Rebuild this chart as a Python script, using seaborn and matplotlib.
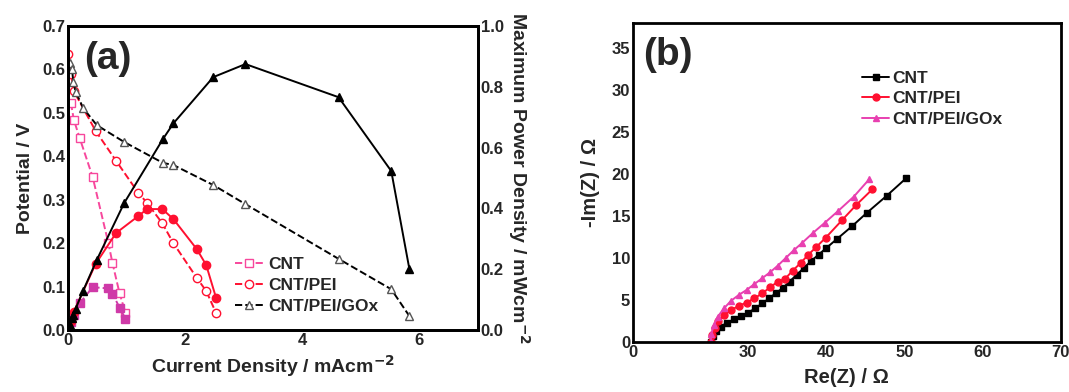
import numpy as np
import pandas as pd
import seaborn as sns
import matplotlib.pyplot as plt
from matplotlib.lines import Line2D

sns.set_style("white")
plt.rcParams['font.family'] = ['Liberation Sans', 'DejaVu Sans']
plt.rcParams['font.weight'] = 'bold'
plt.rcParams['axes.labelweight'] = 'bold'
plt.rcParams['mathtext.default'] = 'bf'

# ---- panel (a): polarization + power curves ----
cnt_i = [0.05, 0.10, 0.20, 0.42, 0.69, 0.76, 0.88, 0.98]
cnt_v = [0.523, 0.484, 0.442, 0.353, 0.200, 0.154, 0.085, 0.040]
cnt_p = [0.026, 0.048, 0.088, 0.141, 0.137, 0.120, 0.074, 0.038]

pei_i = [0.0, 0.05, 0.10, 0.47, 0.82, 1.20, 1.35, 1.61, 1.80, 2.20, 2.36, 2.53]
pei_v = [0.635, 0.59, 0.55, 0.459, 0.390, 0.316, 0.293, 0.246, 0.200, 0.120, 0.090, 0.039]
pei_p = [0.0, 0.03, 0.06, 0.217, 0.319, 0.375, 0.398, 0.398, 0.365, 0.266, 0.214, 0.105]

gox_i = [0.03, 0.07, 0.09, 0.13, 0.26, 0.49, 0.96, 1.62, 1.80, 2.48, 3.03, 4.62, 5.52, 5.83]
gox_v = [0.615, 0.600, 0.572, 0.549, 0.511, 0.472, 0.433, 0.385, 0.380, 0.334, 0.290, 0.164, 0.094, 0.032]
gox_p = [0.018, 0.040, 0.050, 0.070, 0.130, 0.230, 0.418, 0.628, 0.680, 0.832, 0.875, 0.766, 0.523, 0.200]

# ---- panel (b): Nyquist plots ----
nq_cnt_re = [25.3, 25.5, 25.9, 26.5, 27.3, 28.2, 29.1, 30.0, 30.9, 31.8, 32.7, 33.5, 34.4,
             35.3, 36.2, 37.1, 38.0, 39.0, 40.0, 41.4, 43.3, 45.2, 47.7, 50.2]
nq_cnt_im = [0.0, 0.7, 1.3, 1.8, 2.3, 2.7, 3.1, 3.5, 4.0, 4.6, 5.2, 5.8, 6.4,
             7.2, 8.0, 8.8, 9.6, 10.4, 11.2, 12.3, 13.8, 15.4, 17.4, 19.5]
nq_pei_re = [25.3, 25.4, 25.7, 26.2, 26.9, 27.8, 28.8, 29.8, 30.8, 31.8, 32.8, 33.8, 34.7,
             35.7, 36.7, 37.7, 38.7, 39.9, 42.0, 43.8, 45.9]
nq_pei_im = [0.0, 0.8, 1.7, 2.5, 3.2, 3.8, 4.3, 4.7, 5.2, 5.8, 6.5, 7.2, 7.5,
             8.5, 9.4, 10.4, 11.3, 12.4, 14.5, 16.3, 18.2]
nq_gox_re = [25.2, 25.3, 25.6, 26.1, 26.9, 27.8, 28.8, 29.8, 30.8, 31.8, 32.8, 33.8, 34.8,
             35.8, 36.9, 38.3, 39.8, 41.5, 43.5, 45.5]
nq_gox_im = [0.0, 1.0, 2.0, 3.0, 4.0, 4.9, 5.6, 6.2, 6.9, 7.6, 8.3, 9.1, 10.0,
             10.9, 11.8, 13.0, 14.2, 15.6, 17.3, 19.4]

pink = '#f7479c'
magenta = '#cf3aa8'
red = '#ff1030'
tri_pink = '#e840b0'

fig = plt.figure(figsize=(10.69, 3.92), dpi=100)
ax = fig.add_axes([0.0636, 0.158, 0.3835, 0.7755])
ax2 = ax.twinx()

def line(a, x, y, color, marker, ls, mfc, mec=None, label=None, ms=6):
    sns.lineplot(x=x, y=y, ax=a, color=color, marker=marker, linestyle=ls,
                 markerfacecolor=mfc, markeredgecolor=mec or color, markersize=ms,
                 markeredgewidth=1.0, lw=1.4, estimator=None, sort=False,
                 label=label, legend=False)

# potential (left axis, open symbols, dashed)
line(ax, cnt_i, cnt_v, pink, 's', '--', 'white')
line(ax, pei_i, pei_v, red, 'o', '--', 'white')
line(ax, gox_i, gox_v, 'black', '^', '--', 'white', mec='#555555')

# power (right axis, filled symbols)
line(ax2, cnt_i, cnt_p, magenta, 's', '--', magenta)
line(ax2, pei_i, pei_p, red, 'o', '-', red)
line(ax2, gox_i, gox_p, 'black', '^', '-', 'black')

ax.set_xlim(0, 7)
ax.set_ylim(0, 0.7)
ax2.set_ylim(0, 1.0)
ax.set_xticks([0, 2, 4, 6])
ax.set_yticks(np.arange(0, 0.71, 0.1))
ax.set_yticklabels([f'{v:.1f}' for v in np.arange(0, 0.71, 0.1)])
ax2.set_yticks(np.arange(0, 1.01, 0.2))
ax2.set_yticklabels([f'{v:.1f}' for v in np.arange(0, 1.01, 0.2)])
ax.set_xlabel('Current Density / mAcm$^{-2}$', fontsize=14, labelpad=4)
ax.set_ylabel('Potential / V', fontsize=14, labelpad=6)
ax2.set_ylabel('Maximum Power Density / mWcm$^{-2}$', fontsize=14, rotation=270, labelpad=20)
ax.text(0.04, 0.95, '(a)', transform=ax.transAxes, fontsize=28, fontweight='bold', va='top')

handles = [
    Line2D([], [], color=pink, ls='--', marker='s', mfc='white', mec=pink, ms=6, lw=1.4),
    Line2D([], [], color=red, ls='--', marker='o', mfc='white', mec=red, ms=6, lw=1.4),
    Line2D([], [], color='black', ls='--', marker='^', mfc='white', mec='#555555', ms=6, lw=1.4),
]
ax2.legend(handles, ['CNT', 'CNT/PEI', 'CNT/PEI/GOx'], loc='lower left',
           bbox_to_anchor=(0.37, 0.0), frameon=False, fontsize=12.5,
           handlelength=1.6, handletextpad=0.3, labelspacing=0.35)

# ---- panel (b) ----
bx = fig.add_axes([0.592, 0.1276, 0.4004, 0.8138])
line(bx, nq_cnt_re, nq_cnt_im, 'black', 's', '-', 'black', label='CNT', ms=5)
line(bx, nq_pei_re, nq_pei_im, red, 'o', '-', red, label='CNT/PEI', ms=5)
line(bx, nq_gox_re, nq_gox_im, tri_pink, '^', '-', tri_pink, label='CNT/PEI/GOx', ms=5)
bx.set_xlim(15.25, 70)
bx.set_ylim(0, 38)
bx.set_xticks([15.25, 30, 40, 50, 60, 70])
bx.set_xticklabels(['0', '30', '40', '50', '60', '70'])
bx.set_yticks(np.arange(0, 36, 5))
bx.set_xlabel('Re(Z) / Ω', fontsize=14.5, labelpad=6)
bx.set_ylabel('-Im(Z) / Ω', fontsize=14.5, labelpad=8)
bx.text(0.025, 0.955, '(b)', transform=bx.transAxes, fontsize=28, fontweight='bold', va='top')
bx.legend(loc='upper left', bbox_to_anchor=(0.5, 0.9), frameon=False, fontsize=12.5,
          handlelength=1.5, handletextpad=0.2, labelspacing=0.32)

for a in (ax, ax2, bx):
    for s in a.spines.values():
        s.set_linewidth(2.0)
        s.set_color('black')
    a.tick_params(direction='in', length=0, labelsize=12, pad=2)

fig.savefig('out.png', dpi=100)
